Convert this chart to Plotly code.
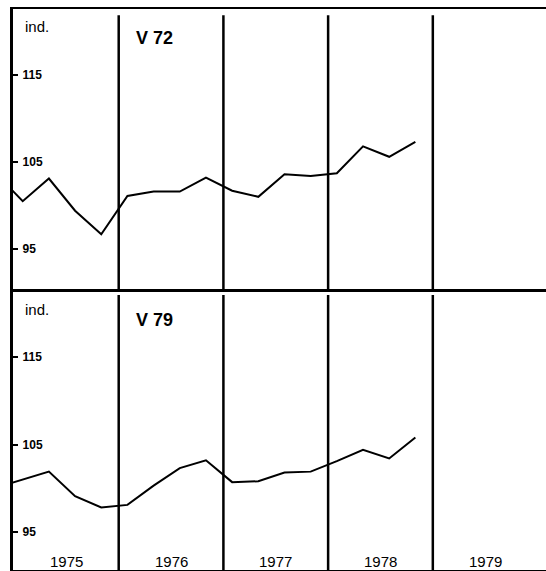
import plotly.graph_objects as go

# ---- data ----
periods = ["1974Q4",
           "1975Q1", "1975Q2", "1975Q3", "1975Q4",
           "1976Q1", "1976Q2", "1976Q3", "1976Q4",
           "1977Q1", "1977Q2", "1977Q3", "1977Q4",
           "1978Q1", "1978Q2", "1978Q3", "1978Q4"]
v72 = [103.6, 100.5, 103.1, 99.4, 96.7, 101.1, 101.6, 101.6, 103.2,
       101.7, 101.0, 103.6, 103.4, 103.7, 106.8, 105.6, 107.3]
v79 = [100.1, 101.0, 101.9, 99.1, 97.8, 98.1, 100.3, 102.3, 103.2,
       100.7, 100.8, 101.8, 101.9, 103.1, 104.4, 103.4, 105.8]
years = [1975, 1976, 1977, 1978, 1979]
year_labels = ["1975", "1976", "1977", "1978", "1979"]
y_ticks = [95, 105, 115]
panel_titles = ["V 72", "V 79"]
y_unit = "ind."

def to_x(p):
    y, q = p.split("Q")
    return int(y) + (3 * (int(q) - 1) + 1) / 12.0

xs = [to_x(p) for p in periods]

W, H = 546, 571
FONT = "Liberation Sans, Arial, Helvetica, sans-serif"

def fy(px):
    return 1 - px / H

fig = go.Figure()
fig.add_trace(go.Scatter(x=xs, y=v72, mode="lines", line=dict(color="black", width=2),
                         xaxis="x", yaxis="y", showlegend=False, hoverinfo="skip"))
fig.add_trace(go.Scatter(x=xs, y=v79, mode="lines", line=dict(color="black", width=2),
                         xaxis="x2", yaxis="y2", showlegend=False, hoverinfo="skip"))

x_range = [1975 - 1 / 105.0, 1975 + 534 / 105.1]
xdom = [13 / W, 1.0]

xaxis_common = dict(range=x_range, domain=xdom, showgrid=False, zeroline=False,
                    showticklabels=False, ticks="", showline=True, mirror=True,
                    linecolor="black", linewidth=2, fixedrange=True)
yaxis_common = dict(showgrid=False, zeroline=False, tickvals=y_ticks,
                    ticks="inside", ticklen=5, tickwidth=1.5, tickcolor="black",
                    ticklabelposition="inside", ticklabelstandoff=4,
                    tickfont=dict(family=FONT, size=12, color="black", weight="bold"),
                    showline=True, linecolor="black", linewidth=3, mirror=False,
                    fixedrange=True)

fig.update_layout(
    width=W, height=H,
    margin=dict(l=0, r=0, t=0, b=0),
    paper_bgcolor="white", plot_bgcolor="white",
    xaxis=dict(**xaxis_common, anchor="y"),
    yaxis=dict(**yaxis_common, anchor="x", domain=[fy(290), fy(9)],
               range=[95 - 41 / 8.7, 115 + 66 / 8.7]),
    xaxis2=dict(**xaxis_common, anchor="y2"),
    yaxis2=dict(**yaxis_common, anchor="x2", domain=[fy(570), fy(291)],
                range=[95 - 38 / 8.75, 115 + 66 / 8.75]),
)

shapes = []
for yr in years[1:]:
    shapes.append(dict(type="line", xref="x", yref="y domain", x0=yr, x1=yr,
                       y0=0, y1=0.978, line=dict(color="black", width=2.5)))
    shapes.append(dict(type="line", xref="x2", yref="y2 domain", x0=yr, x1=yr,
                       y0=0, y1=0.986, line=dict(color="black", width=2.5)))
fig.update_layout(shapes=shapes)

ann = []
for i, (ttl, top) in enumerate(zip(panel_titles, [9, 291])):
    ann.append(dict(text=y_unit, xref="paper", yref="paper", x=23 / W, y=fy(top + 18),
                    xanchor="left", yanchor="middle", showarrow=False,
                    font=dict(family=FONT, size=15, color="black")))
    ann.append(dict(text=ttl, xref="paper", yref="paper", x=154 / W, y=fy(top + 29),
                    xanchor="center", yanchor="middle", showarrow=False,
                    font=dict(family=FONT, size=18, color="black", weight="bold")))
for yr, lab in zip(years, year_labels):
    ann.append(dict(text=lab, xref="x2", yref="paper", x=yr + 0.5, y=fy(561),
                    xanchor="center", yanchor="middle", showarrow=False,
                    font=dict(family=FONT, size=15, color="black")))
fig.update_layout(annotations=ann)

fig.write_html("out.html", config={"displayModeBar": False},
               post_script="document.body.style.margin='0';"
                           "document.body.style.padding='0';"
                           "document.body.style.overflow='hidden';")
